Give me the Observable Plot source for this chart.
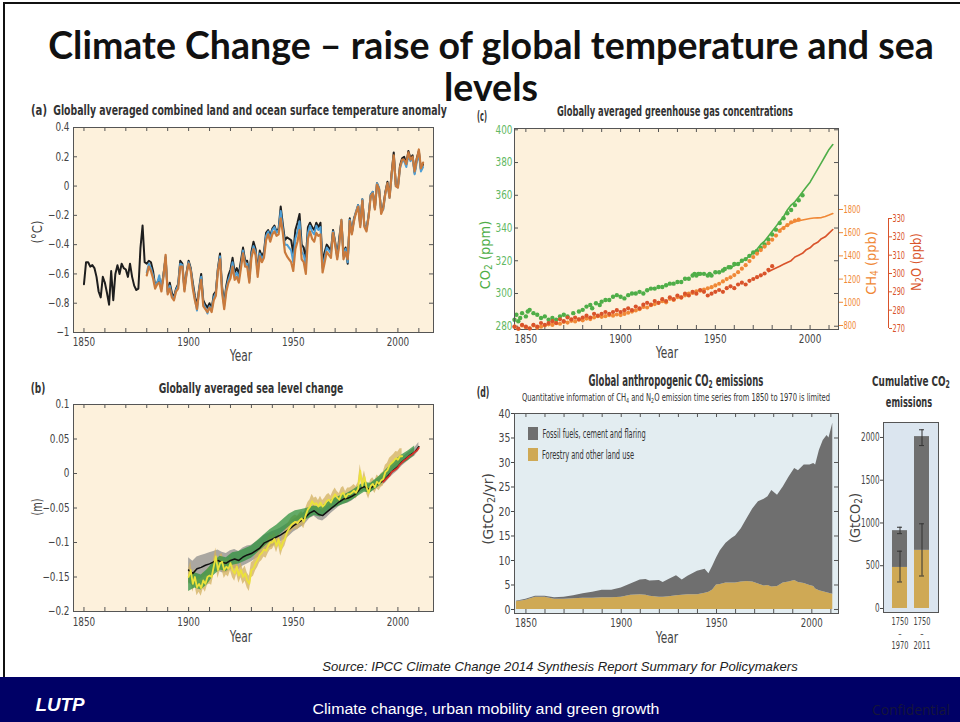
<!DOCTYPE html>
<html><head><meta charset="utf-8">
<script src="https://cdn.jsdelivr.net/npm/d3@7"></script>
<script src="https://cdn.jsdelivr.net/npm/@observablehq/plot@0.6"></script>
<style>
html,body{margin:0;padding:0;background:#fff;}
#root{position:relative;width:960px;height:722px;overflow:hidden;background:#fff;}
.t{position:absolute;white-space:nowrap;line-height:1;font-family:"DejaVu Sans Condensed","DejaVu Sans",sans-serif;color:#333;}
.t sub{font-size:70%;vertical-align:-0.25em;line-height:0;}
</style></head>
<body><div id="root"></div>
<script>
// ---------------- DATA ----------------
// (a) temperature anomaly (°C), annual
const hadcrutStart = 1850;
const hadcrut = [
-0.67,-0.52,-0.52,-0.55,-0.54,-0.56,-0.62,-0.72,-0.76,-0.62,
-0.66,-0.73,-0.81,-0.58,-0.78,-0.60,-0.54,-0.60,-0.53,-0.56,
-0.57,-0.62,-0.53,-0.62,-0.68,-0.71,-0.70,-0.42,-0.27,-0.52,
-0.53,-0.51,-0.52,-0.58,-0.68,-0.66,-0.63,-0.70,-0.60,-0.49,
-0.72,-0.66,-0.73,-0.76,-0.70,-0.67,-0.51,-0.53,-0.70,-0.59,
-0.51,-0.56,-0.66,-0.75,-0.82,-0.70,-0.60,-0.78,-0.81,-0.83,
-0.80,-0.84,-0.74,-0.72,-0.56,-0.46,-0.69,-0.80,-0.68,-0.61,
-0.57,-0.49,-0.59,-0.56,-0.60,-0.51,-0.42,-0.51,-0.51,-0.63,
-0.45,-0.38,-0.43,-0.58,-0.44,-0.48,-0.45,-0.32,-0.30,-0.34,
-0.29,-0.27,-0.31,-0.29,-0.14,-0.26,-0.37,-0.35,-0.36,-0.37,
-0.46,-0.30,-0.25,-0.19,-0.40,-0.42,-0.50,-0.28,-0.25,-0.28,
-0.30,-0.25,-0.28,-0.25,-0.52,-0.45,-0.40,-0.42,-0.44,-0.30,
-0.38,-0.48,-0.35,-0.24,-0.47,-0.42,-0.53,-0.22,-0.32,-0.22,
-0.18,-0.13,-0.26,-0.09,-0.27,-0.29,-0.20,-0.06,-0.04,-0.15,
0.02,-0.02,-0.17,-0.14,-0.04,0.03,-0.07,0.09,0.23,0.01,
0.00,0.14,0.19,0.20,0.15,0.24,0.19,0.21,0.09,0.19,
0.24,0.11,0.15];
const noaaStart = 1880;
const noaa = [
-0.61,-0.55,-0.58,-0.63,-0.70,-0.67,-0.66,-0.72,-0.62,-0.47,
-0.74,-0.70,-0.76,-0.78,-0.72,-0.70,-0.55,-0.55,-0.72,-0.60,
-0.53,-0.58,-0.70,-0.78,-0.84,-0.72,-0.64,-0.82,-0.84,-0.86,
-0.83,-0.86,-0.78,-0.75,-0.58,-0.50,-0.73,-0.84,-0.72,-0.66,
-0.63,-0.55,-0.64,-0.62,-0.66,-0.56,-0.46,-0.55,-0.55,-0.66,
-0.49,-0.43,-0.47,-0.62,-0.48,-0.52,-0.49,-0.37,-0.33,-0.38,
-0.33,-0.31,-0.34,-0.33,-0.22,-0.32,-0.45,-0.48,-0.50,-0.52,
-0.58,-0.43,-0.38,-0.30,-0.50,-0.52,-0.60,-0.36,-0.31,-0.36,
-0.38,-0.32,-0.34,-0.33,-0.59,-0.52,-0.45,-0.47,-0.49,-0.32,
-0.40,-0.50,-0.40,-0.23,-0.50,-0.45,-0.50,-0.24,-0.33,-0.24,
-0.18,-0.14,-0.28,-0.10,-0.28,-0.31,-0.21,-0.07,-0.05,-0.16,
0.01,-0.02,-0.19,-0.15,-0.05,0.02,-0.08,0.08,0.21,0.00,
-0.01,0.13,0.18,0.18,0.15,0.23,0.18,0.20,0.10,0.18,
0.25,0.12,0.16];
const gissStart = 1880;
const giss = [
-0.59,-0.53,-0.56,-0.61,-0.68,-0.66,-0.61,-0.70,-0.61,-0.48,
-0.73,-0.68,-0.75,-0.77,-0.71,-0.68,-0.53,-0.54,-0.71,-0.60,
-0.52,-0.57,-0.68,-0.77,-0.85,-0.71,-0.62,-0.80,-0.83,-0.87,
-0.82,-0.85,-0.76,-0.73,-0.57,-0.48,-0.71,-0.82,-0.70,-0.64,
-0.60,-0.52,-0.62,-0.59,-0.63,-0.54,-0.44,-0.53,-0.53,-0.65,
-0.47,-0.41,-0.45,-0.60,-0.46,-0.50,-0.47,-0.34,-0.31,-0.36,
-0.30,-0.28,-0.32,-0.30,-0.17,-0.29,-0.40,-0.40,-0.42,-0.44,
-0.52,-0.36,-0.31,-0.24,-0.45,-0.47,-0.55,-0.32,-0.27,-0.31,
-0.33,-0.27,-0.30,-0.28,-0.56,-0.49,-0.42,-0.44,-0.46,-0.31,
-0.39,-0.49,-0.38,-0.23,-0.48,-0.43,-0.52,-0.23,-0.32,-0.23,
-0.17,-0.13,-0.27,-0.09,-0.27,-0.30,-0.20,-0.06,-0.04,-0.15,
0.02,-0.01,-0.18,-0.16,-0.05,0.02,-0.08,0.07,0.20,0.00,
-0.01,0.12,0.17,0.17,0.13,0.21,0.17,0.19,0.08,0.16,
0.22,0.10,0.13];
const tempTicks = [-1,-0.8,-0.6,-0.4,-0.2,0,0.2,0.4];

// (b) sea level change (m)
const cwStart = 1900, cwStep = 2; // Church & White, every 2 years
const churchWhite = [-0.140,-0.145,-0.138,-0.136,-0.133,-0.131,-0.128,-0.126,-0.129,-0.130,
-0.126,-0.124,-0.126,-0.121,-0.118,-0.116,-0.112,-0.108,-0.101,-0.098,
-0.095,-0.092,-0.089,-0.085,-0.081,-0.076,-0.072,-0.068,-0.063,-0.057,
-0.054,-0.059,-0.061,-0.056,-0.051,-0.046,-0.041,-0.037,-0.036,-0.033,
-0.029,-0.022,-0.019,-0.023,-0.019,-0.015,-0.012,-0.008,-0.001,0.005,
0.010,0.017,0.022,0.027,0.031,0.039];
const churchWhiteUnc = [0.018,0.018,0.017,0.017,0.016,0.016,0.015,0.015,0.015,0.014,
0.014,0.014,0.013,0.013,0.013,0.012,0.012,0.012,0.011,0.011,
0.011,0.010,0.010,0.010,0.010,0.009,0.009,0.009,0.009,0.008,
0.008,0.008,0.008,0.008,0.007,0.007,0.007,0.007,0.007,0.007,
0.006,0.006,0.006,0.006,0.006,0.006,0.006,0.006,0.006,0.006,
0.006,0.006,0.006,0.006,0.006,0.006];
const jevStart = 1900; // Jevrejeva, annual
const jevrejeva = [
-0.150,-0.140,-0.160,-0.150,-0.165,-0.160,-0.166,-0.155,-0.160,-0.150,
-0.148,-0.150,-0.135,-0.120,-0.140,-0.130,-0.128,-0.140,-0.135,-0.138,
-0.130,-0.140,-0.145,-0.135,-0.148,-0.140,-0.150,-0.145,-0.155,-0.160,
-0.140,-0.138,-0.130,-0.125,-0.118,-0.115,-0.110,-0.112,-0.105,-0.100,
-0.100,-0.095,-0.105,-0.095,-0.110,-0.100,-0.095,-0.085,-0.080,-0.075,
-0.072,-0.070,-0.072,-0.068,-0.065,-0.070,-0.060,-0.052,-0.048,-0.040,
-0.045,-0.043,-0.048,-0.042,-0.048,-0.045,-0.040,-0.038,-0.042,-0.035,
-0.030,-0.035,-0.038,-0.030,-0.028,-0.035,-0.030,-0.030,-0.028,-0.025,
-0.028,-0.022,0.004,-0.018,-0.005,-0.020,-0.028,-0.018,-0.015,-0.020,
-0.012,-0.015,-0.010,-0.008,0.002,0.005,0.012,0.015,0.018,0.022,
0.020,0.025,0.025];
const jevUncByDecade = [0.012,0.012,0.011,0.011,0.010,0.010,0.009,0.009,0.009,0.010,0.011];
const rdStart = 1900, rdStep = 3; // Ray & Douglas
const rayDouglas = [-0.160,-0.155,-0.158,-0.150,-0.138,-0.130,-0.132,-0.124,-0.122,-0.118,
-0.114,-0.106,-0.098,-0.090,-0.084,-0.076,-0.068,-0.062,-0.060,-0.058,
-0.054,-0.056,-0.050,-0.044,-0.040,-0.037,-0.032,-0.026,-0.020,-0.021,
-0.014,-0.006,0.004,0.013,0.020,0.026,0.033];
const rdUncByDecade = [0.011,0.010,0.009,0.009,0.009,0.008,0.007,0.007,0.007,0.007,0.007];
const satStart = 1993; // satellite altimetry
const satellite = [-0.012,-0.009,-0.006,-0.003,0.002,0.004,0.006,0.009,0.013,0.016,0.019,0.021,0.024,0.026,0.028,0.031,0.033,0.037];
const seaTicks = [-0.2,-0.15,-0.1,-0.05,0,0.05,0.1];

// (c) greenhouse gases
const co2Ice = [[1844,284],[1845,287],[1846,283],[1847,285],[1848,288],[1850,286],[1851,289],[1852,290],[1854,288],[1856,287],
[1858,285],[1860,286],[1862,284],[1864,285],[1866,284],[1868,286],[1870,287],[1872,286],[1875,288],[1878,289],
[1880,290],[1882,292],[1884,293],[1885,291],[1887,294],[1889,293],[1890,295],[1892,296],[1894,296],[1896,298],
[1898,299],[1900,298],[1902,297],[1904,299],[1906,300],[1908,300],[1910,301],[1912,300],[1914,302],[1916,303],
[1918,303],[1920,304],[1922,304],[1924,305],[1926,306],[1928,306],[1930,307],[1932,307],[1934,309],[1936,309],
[1938,311],[1939,312],[1940,311],[1941,312],[1942,312],[1944,312],[1946,311],[1947,312],[1948,311],[1950,313],
[1952,313],[1954,314],[1955,315],[1957,316],[1958,316],[1960,318],[1962,318],[1964,320],[1966,321],[1968,323],
[1970,325],[1972,326],[1974,328],[1976,330],[1978,333],[1980,336],[1982,339],[1984,343],[1986,346],[1988,349],
[1990,351],[1992,354],[1994,357],[1996,360]];
const co2Direct = [[1958,316],[1960,317],[1962,318],[1964,320],[1966,321],[1968,323],[1970,325],[1972,327],[1974,330],
[1976,332],[1978,335],[1980,338],[1982,341],[1984,344],[1986,347],[1988,351],[1990,354],[1992,356],[1994,359],
[1996,362],[1998,365],[2000,368],[2002,372],[2004,376],[2006,380],[2008,384],[2010,388],[2012,391]];
const ch4Ice = [[1844,790],[1846,770],[1848,800],[1850,785],[1852,775],[1854,800],[1856,780],[1858,790],[1860,800],[1862,810],
[1864,805],[1866,820],[1868,815],[1870,830],[1872,825],[1874,840],[1876,835],[1878,850],[1880,845],[1882,860],
[1884,855],[1886,870],[1888,880],[1890,875],[1892,880],[1894,890],[1896,885],[1898,895],[1900,890],[1902,900],
[1904,910],[1906,920],[1908,930],[1910,940],[1912,960],[1914,955],[1916,975],[1918,985],[1920,995],[1922,1010],
[1924,1000],[1926,1030],[1928,1020],[1930,1045],[1932,1040],[1934,1060],[1936,1075],[1938,1080],[1940,1095],[1942,1100],
[1944,1110],[1946,1120],[1948,1130],[1950,1145],[1952,1160],[1954,1180],[1956,1200],[1958,1215],[1960,1235],[1962,1260],
[1964,1290],[1966,1320],[1968,1355],[1970,1390],[1972,1420],[1974,1450],[1976,1480],[1978,1510],[1980,1540],[1982,1575],
[1984,1615],[1986,1640],[1988,1665],[1990,1690],[1992,1705],[1994,1712]];
const ch4Direct = [[1984,1625],[1986,1645],[1988,1665],[1990,1682],[1992,1695],[1994,1703],[1996,1710],[1998,1716],
[2000,1722],[2002,1726],[2004,1728],[2006,1730],[2008,1740],[2010,1752],[2012,1765]];
const n2oIce = [[1844,271],[1846,270],[1848,272],[1850,271],[1852,270],[1854,272],[1856,271],[1858,273],[1860,272],[1862,273],
[1864,274],[1866,273],[1868,275],[1870,274],[1872,276],[1874,275],[1876,276],[1878,275],[1880,276],[1882,277],
[1884,276],[1886,278],[1888,277],[1890,278],[1892,279],[1894,278],[1896,279],[1898,280],[1900,279],[1902,280],
[1904,281],[1906,280],[1908,282],[1910,281],[1912,283],[1914,284],[1916,283],[1918,285],[1920,284],[1922,286],
[1924,285],[1926,287],[1928,286],[1930,288],[1932,287],[1934,289],[1936,288],[1938,290],[1940,289],[1942,291],
[1944,290],[1946,288],[1948,289],[1950,290],[1952,291],[1954,290],[1956,292],[1958,293],[1960,292],[1962,294],
[1964,295],[1966,294],[1968,296],[1970,297],[1972,298],[1974,299],[1976,300],[1978,302],[1980,304]];
const n2oDirect = [[1978,301],[1980,302],[1982,303],[1984,304],[1986,305],[1988,306],[1990,307],[1992,309],[1994,310],
[1996,311],[1998,313],[2000,314],[2002,316],[2004,317],[2006,319],[2008,320],[2010,322],[2012,324]];
const co2Ticks = [280,300,320,340,360,380,400];
const ch4Ticks = [800,1000,1200,1400,1600,1800];
const n2oTicks = [270,280,290,300,310,320,330];

// (d) anthropogenic CO2 emissions (GtCO2/yr)
const emisYears = [1845,1850,1855,1860,1865,1870,1875,1880,1885,1890,1895,1900,1905,1910,1913,1915,1920,1922,1925,1929,
1932,1935,1940,1944,1946,1948,1950,1952,1955,1958,1960,1963,1966,1969,1972,1975,1977,1979,1982,1985,
1988,1991,1993,1996,1999,2001,2002,2004,2006,2008,2009,2010,2011];
const landUse = [1.6,1.9,2.5,2.5,2.1,2.1,2.2,2.3,2.3,2.4,2.4,2.5,2.9,3.0,2.9,2.7,2.5,2.5,2.6,2.8,
2.9,3.0,3.0,3.3,3.5,4.0,5.0,5.1,5.4,5.4,5.4,5.6,5.7,5.6,5.2,4.8,4.9,4.6,4.7,5.4,
5.6,5.9,5.5,5.3,4.9,4.7,4.2,3.8,3.6,3.4,3.3,3.2,3.1];
const fossilFuel = [0.1,0.2,0.2,0.2,0.3,0.4,0.6,0.9,1.2,1.5,1.5,1.9,2.3,3.0,3.2,3.1,3.4,3.0,3.5,4.1,
3.1,3.8,4.8,4.9,3.8,4.8,5.5,6.9,8.1,9.1,9.6,10.9,12.8,14.9,16.8,17.7,18.1,19.7,18.6,19.6,
21.4,22.9,22.8,24.2,24.6,25.1,25.3,28.7,30.9,32.1,31.7,33.3,34.9];
const emisTicks = [0,5,10,15,20,25,30,35,40];
const emisNames = ["Forestry and other land use","Fossil fuels, cement and flaring"];

// cumulative CO2 emissions (GtCO2)
const periods = ["1750–1970","1750–2011"];
const cumLand = [480, 680];
const cumFossil = [430, 1330];
const cumTotalErr = [[875, 950],[1905, 2090]];
const cumLandErr = [[310, 670],[380, 990]];
const cumTicks = [0,500,1000,1500,2000];

// ---------------- STYLE ----------------
const NARROW = '"DejaVu Sans Condensed","DejaVu Sans",sans-serif';
const PEACH = "#fdf1dc", BLUEBG = "#e3edf1", CUMBG = "#dbe5ef", FRAME = "#555";
const GREEN = "#4fae48", ORANGE = "#f08836", RED = "#d9532a";
const TAN = "#cfa955", GREY = "#6f6f6f";
const decades = d3.range(1850, 2011, 10);
const root = document.getElementById("root");

function put(node, left, top, squeeze = 1) {
  node.style.position = "absolute"; node.style.left = left + "px"; node.style.top = top + "px";
  root.appendChild(node);
  if (squeeze !== 1) {
    node.querySelectorAll("text").forEach(t => {
      const sp = t.querySelectorAll("tspan");
      (sp.length ? Array.from(sp) : [t]).forEach(el => {
        const L = el.getComputedTextLength();
        if (L > 0) { el.setAttribute("textLength", (L * squeeze).toFixed(2)); el.setAttribute("lengthAdjust", "spacingAndGlyphs"); }
      });
    });
  }
  return node;
}
function txt(html, x, y, css = "", rot = false, w = null) {
  const d = document.createElement("div");
  d.className = "t"; d.innerHTML = html; d.style.cssText += css;
  d.style.left = x + "px"; d.style.top = y + "px";
  root.appendChild(d);
  const s = w ? w / d.offsetWidth : 1;
  d.style.transform = "translate(-50%,-50%)" + (rot ? " rotate(-90deg)" : "") + (w ? ` scaleX(${s.toFixed(3)})` : "");
  return d;
}
function inward(xt, yt, fw, fh, len = 4) {
  return [
    Plot.tickX(xt, {x: d => d, insetTop: fh - len, stroke: FRAME}),
    Plot.tickX(xt, {x: d => d, insetBottom: fh - len, stroke: FRAME}),
    Plot.tickY(yt, {y: d => d, insetRight: fw - len, stroke: FRAME}),
    Plot.tickY(yt, {y: d => d, insetLeft: fw - len, stroke: FRAME})
  ];
}
const st = (fs = 12) => ({background: "transparent", fontFamily: NARROW, fontSize: fs + "px", color: "#444", overflow: "visible"});
const series = (start, step, arr) => arr.map((v, i) => ({year: start + i * step, value: v}));
const pairs = arr => arr.map(([year, value]) => ({year, value}));
const HB = "font-size:14px;font-weight:bold;color:#333;";
const AX = "font-size:14px;color:#444;";

// ---------------- PAGE CHROME ----------------
const border = document.createElement("div");
border.style.cssText = "position:absolute;left:3px;top:2px;width:960px;height:675px;border-left:2px solid #111;border-top:2px solid #111;";
root.appendChild(border);

// ---------------- (a) ----------------
put(Plot.plot({
  width: 470, height: 275, marginLeft: 73, marginRight: 37, marginTop: 32, marginBottom: 38,
  style: st(12),
  x: {domain: [1845, 2017]}, y: {domain: [-1, 0.4]},
  marks: [
    Plot.frame({fill: PEACH}),
    ...inward(decades, tempTicks, 360, 205),
    Plot.line(series(hadcrutStart, 1, hadcrut), {x: "year", y: "value", stroke: "#1e1e1e", strokeWidth: 2}),
    Plot.line(series(gissStart, 1, giss), {x: "year", y: "value", stroke: "#4d9fd6", strokeWidth: 2}),
    Plot.line(series(noaaStart, 1, noaa), {x: "year", y: "value", stroke: "#c97a3c", strokeWidth: 2.2}),
    Plot.frame({stroke: FRAME}),
    Plot.axisX({ticks: [1850, 1900, 1950, 2000], tickSize: 0, tickPadding: 5, tickFormat: d => String(d), label: null}),
    Plot.axisY({ticks: tempTicks, tickSize: 0, tickPadding: 4, tickFormat: d3.format(""), label: null})
  ]
}), 0, 95, 0.82);
txt("(a)", 39, 110, HB, false, 16);
txt("Globally averaged combined land and ocean surface temperature anomaly", 250, 110, HB, false, 393);
txt("(°C)", 37, 232, AX, true, 23);
txt("Year", 241, 356, "font-size:15px;color:#444;", false, 22);

// ---------------- (b) ----------------
const cwData = series(cwStart, cwStep, churchWhite).map((d, i) => ({...d, u: churchWhiteUnc[i]}));
const jevData = series(jevStart, 1, jevrejeva).map(d => ({...d, u: jevUncByDecade[Math.floor((d.year - 1900) / 10)]}));
const rdData = series(rdStart, rdStep, rayDouglas).map(d => ({...d, u: rdUncByDecade[Math.floor((d.year - 1900) / 10)]}));
put(Plot.plot({
  width: 470, height: 280, marginLeft: 73, marginRight: 37, marginTop: 34, marginBottom: 39,
  style: st(12),
  x: {domain: [1845, 2017]}, y: {domain: [-0.2, 0.1]},
  marks: [
    Plot.frame({fill: PEACH}),
    ...inward(decades, seaTicks, 360, 207),
    Plot.areaY(cwData, {x: "year", y1: d => d.value - d.u, y2: d => d.value + d.u, fill: "#8e8e8e", fillOpacity: 0.75}),
    Plot.areaY(jevData, {x: "year", y1: d => d.value - d.u, y2: d => d.value + d.u, fill: "#d2b060", fillOpacity: 0.75}),
    Plot.areaY(rdData, {x: "year", y1: d => d.value - d.u, y2: d => d.value + d.u, fill: "#2f9140", fillOpacity: 0.75}),
    Plot.line(cwData, {x: "year", y: "value", stroke: "#111", strokeWidth: 1.5}),
    Plot.line(jevData, {x: "year", y: "value", stroke: "#ece23a", strokeWidth: 1.8}),
    Plot.line(series(satStart, 1, satellite), {x: "year", y: "value", stroke: "#d8322a", strokeWidth: 1.8}),
    Plot.frame({stroke: FRAME}),
    Plot.axisX({ticks: [1850, 1900, 1950, 2000], tickSize: 0, tickPadding: 6, tickFormat: d => String(d), label: null}),
    Plot.axisY({ticks: seaTicks, tickSize: 0, tickPadding: 4, tickFormat: d3.format(""), label: null})
  ]
}), 0, 370, 0.82);
txt("(b)", 38, 388, HB, false, 15);
txt("Globally averaged sea level change", 251, 388, HB, false, 185);
txt("(m)", 37, 507, AX, true, 17);
txt("Year", 241, 637, "font-size:15px;color:#444;", false, 22);

// ---------------- (c) ----------------
const cGeom = {width: 490, height: 270, marginLeft: 44, marginRight: 122, marginTop: 33, marginBottom: 36};
const xDomC = [1844, 2015];
put(Plot.plot({
  ...cGeom, style: st(12),
  x: {domain: xDomC}, y: {domain: [278, 400.8]},
  marks: [
    Plot.frame({fill: PEACH}),
    ...inward(decades, co2Ticks, 324, 201),
    Plot.dot(pairs(co2Ice), {x: "year", y: "value", r: 2.2, fill: GREEN, stroke: null}),
    Plot.line(pairs(co2Direct), {x: "year", y: "value", stroke: GREEN, strokeWidth: 1.6}),
    Plot.frame({stroke: FRAME}),
    Plot.axisX({ticks: [1850, 1900, 1950, 2000], tickSize: 0, tickPadding: 5, tickFormat: d => String(d), label: null}),
    Plot.axisY({ticks: co2Ticks, tickSize: 0, tickPadding: 2, tickFormat: d => String(d), color: "#62b862", label: null})
  ]
}), 470, 95, 0.82);
put(Plot.plot({
  ...cGeom, style: st(11),
  x: {domain: xDomC, axis: null}, y: {domain: [765.5, 2498]},
  marks: [
    Plot.dot(pairs(ch4Ice), {x: "year", y: "value", r: 2.1, fill: ORANGE, stroke: null}),
    Plot.line(pairs(ch4Direct), {x: "year", y: "value", stroke: ORANGE, strokeWidth: 1.6}),
    Plot.axisY({anchor: "right", ticks: ch4Ticks, tickSize: 4, tickPadding: 1, tickFormat: d => String(d), color: ORANGE, label: null})
  ]
}), 470, 95, 0.68);
put(Plot.plot({
  ...cGeom, style: st(11),
  x: {domain: xDomC, axis: null}, y: {domain: [269.45, 379.1]},
  marks: [
    Plot.dot(pairs(n2oIce), {x: "year", y: "value", r: 2.1, fill: RED, stroke: null}),
    Plot.line(pairs(n2oDirect), {x: "year", y: "value", stroke: RED, strokeWidth: 1.6}),
    Plot.ruleX([xDomC[1]], {x: d => d, y1: n2oTicks[0], y2: n2oTicks[n2oTicks.length - 1], dx: 50, stroke: RED}),
    Plot.axisY({anchor: "right", ticks: n2oTicks, tickSize: 3, tickPadding: 1, dx: 50, tickFormat: d => String(d), color: RED, label: null})
  ]
}), 470, 95, 0.66);
txt("(c)", 482, 116, HB, false, 10);
txt("Globally averaged greenhouse gas concentrations", 675, 111, HB, false, 236);
txt("CO<sub>2</sub> (ppm)", 485, 255, AX + "color:" + GREEN + ";", true, 68);
txt("CH<sub>4</sub> (ppb)", 871, 263, AX + "color:" + ORANGE + ";", true, 64);
txt("N<sub>2</sub>O (ppb)", 916, 262, AX + "color:" + RED + ";", true, 58);
txt("Year", 667, 353, "font-size:15px;color:#444;", false, 22);

// ---------------- (d) ----------------
const emisData = [
  ...emisYears.map((year, i) => ({year, value: landUse[i], type: emisNames[0]})),
  ...emisYears.map((year, i) => ({year, value: fossilFuel[i], type: emisNames[1]}))
];
put(Plot.plot({
  width: 490, height: 285, marginLeft: 44, marginRight: 122, marginTop: 48, marginBottom: 37,
  style: st(13),
  x: {domain: [1844, 2014]}, y: {domain: [-0.82, 40]},
  color: {domain: emisNames, range: [TAN, GREY]},
  marks: [
    Plot.frame({fill: BLUEBG}),
    Plot.areaY(emisData, {x: "year", y: "value", fill: "type", curve: "linear"}),
    Plot.tickX(decades, {x: d => d, insetTop: 196, stroke: FRAME}),
    Plot.tickX(decades, {x: d => d, insetBottom: 196, stroke: FRAME}),
    Plot.tickY(emisTicks, {y: d => d, insetLeft: 320, stroke: FRAME}),
    Plot.frame({stroke: FRAME}),
    Plot.axisX({ticks: [1850, 1900, 1950, 2000], tickSize: 0, tickPadding: 5, tickFormat: d => String(d), fontSize: 12, label: null}),
    Plot.axisY({ticks: emisTicks, tickSize: 3, tickPadding: 1, tickFormat: d => String(d), label: null})
  ]
}), 470, 365, 0.8);
txt("(d)", 483, 392, HB, false, 13);
txt("Global anthropogenic CO<sub>2</sub> emissions", 676, 381, "font-size:15px;font-weight:bold;color:#333;", false, 175);
txt("Quantitative information of CH<sub>4</sub> and N<sub>2</sub>O emission time series from 1850 to 1970 is limited", 676, 398, "font-size:10px;color:#333;", false, 308);
txt("(GtCO<sub>2</sub>/yr)", 488, 509, AX, true, 72);
txt("Year", 667, 638, "font-size:15px;color:#444;", false, 22);
[[GREY, emisNames[1], 434, 103], [TAN, emisNames[0], 455, 92]].forEach(([c, name, y, w]) => {
  const sq = document.createElement("div");
  sq.style.cssText = `position:absolute;left:528px;top:${y - 7}px;width:10px;height:13px;background:${c};`;
  root.appendChild(sq);
  txt(name, 542 + w / 2, y, "font-size:12px;color:#333;", false, w);
});

// ---------------- cumulative ----------------
const cumData = [
  ...periods.map((p, i) => ({period: p, value: cumLand[i], type: emisNames[0]})),
  ...periods.map((p, i) => ({period: p, value: cumFossil[i], type: emisNames[1]}))
];
const errData = [
  ...periods.map((p, i) => ({period: p, lo: cumTotalErr[i][0], hi: cumTotalErr[i][1]})),
  ...periods.map((p, i) => ({period: p, lo: cumLandErr[i][0], hi: cumLandErr[i][1]}))
];
put(Plot.plot({
  width: 120, height: 300, marginLeft: 43, marginRight: 22, marginTop: 57, marginBottom: 53,
  style: st(10.5),
  x: {domain: periods, paddingInner: 0.3, paddingOuter: 0.3457},
  y: {domain: [-47, 2175]},
  color: {domain: emisNames, range: [TAN, GREY]},
  marks: [
    Plot.frame({fill: CUMBG}),
    Plot.barY(cumData, {x: "period", y: "value", fill: "type"}),
    Plot.ruleX(errData, {x: "period", y1: "lo", y2: "hi", stroke: "#333", strokeWidth: 1}),
    Plot.tickY(errData, {x: "period", y: "lo", stroke: "#333", insetLeft: 5, insetRight: 5}),
    Plot.tickY(errData, {x: "period", y: "hi", stroke: "#333", insetLeft: 5, insetRight: 5}),
    Plot.frame({stroke: FRAME}),
    Plot.axisX({tickSize: 0, tickPadding: 5, tickFormat: d => d.split("–")[0], label: null}),
    Plot.axisX({tickSize: 0, tickPadding: 17, tickFormat: () => "–", label: null}),
    Plot.axisX({tickSize: 0, tickPadding: 29, tickFormat: d => d.split("–")[1], label: null}),
    Plot.axisY({ticks: cumTicks, tickSize: 3, tickPadding: 1, tickFormat: d => String(d), fontSize: 11.5, label: null})
  ]
}), 840, 365, 0.7);
txt("Cumulative CO<sub>2</sub>", 911, 381, HB, false, 78);
txt("emissions", 909, 402, HB, false, 46);
txt("(GtCO<sub>2</sub>)", 855, 518, AX, true, 50);

// ---------------- title & footer ----------------
const TITLE = "font-family:Lato,'Open Sans',sans-serif;font-weight:700;font-size:37.5px;line-height:0.72;color:#111;";
txt("Climate Change – raise of global temperature and sea", 491, 43.5, TITLE);
txt("levels", 491, 85.5, TITLE);

txt("Source: IPCC Climate Change 2014 Synthesis Report Summary for Policymakers", 560, 666, "font-family:'Liberation Sans',Arial,sans-serif;font-style:italic;font-size:13px;color:#222;", false, 475);
const band = document.createElement("div");
band.style.cssText = "position:absolute;left:0;top:677px;width:960px;height:45px;background:#000066;";
root.appendChild(band);
txt("LUTP", 60, 705, "font-family:'Liberation Sans',Arial,sans-serif;font-weight:bold;font-style:italic;font-size:18px;color:#fff;", false, 49);
txt("Climate change, urban mobility and green growth", 486, 709, "font-family:'Liberation Sans',Arial,sans-serif;font-size:15.5px;color:#fff;", false, 347);
txt("Confidential", 911, 710, "font-family:'Open Sans',sans-serif;font-size:14px;color:#15153a;", false, 78);
</script>
</body></html>
